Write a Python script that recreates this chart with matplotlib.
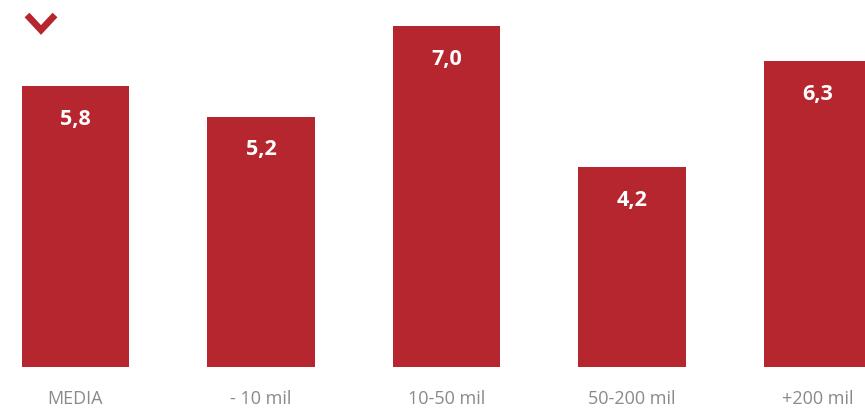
import matplotlib.pyplot as plt
from matplotlib.lines import Line2D

categories = ["MEDIA", "- 10 mil", "10-50 mil", "50-200 mil", "+200 mil"]
values = [5.8, 5.2, 7.0, 4.2, 6.3]
labels = ["5,8", "5,2", "7,0", "4,2", "6,3"]

RED = "#b5262e"
GREY = "#8a8a8a"
BASE = 0.228  # value axis does not start at zero in the original

fig = plt.figure(figsize=(8.65, 4.10), dpi=100)
ax = fig.add_axes([0, 0, 1, 1])

xs = list(range(len(categories)))
ax.bar(xs, [v - BASE for v in values], bottom=BASE, width=0.577, color=RED)

for x, v, lab in zip(xs, values, labels):
    ax.text(x, v - 0.64, lab, ha="center", va="center", color="white",
            fontsize=15.5, fontweight="bold", family=["Open Sans", "DejaVu Sans"])

for x, cat in zip(xs, categories):
    ax.text(x, BASE - 0.62, cat, ha="center", va="center", color=GREY,
            fontsize=13, family=["Open Sans", "DejaVu Sans"])

ax.set_xlim(-0.407, 4.256)
ax.set_ylim(-0.606, 7.535)
ax.axis("off")

# chevron marker top-left (pixel coords -> figure fraction)
W, H = 865, 410
px = [27, 41, 55]
py = [16, 31, 16]
fig.add_artist(Line2D([p / W for p in px], [1 - p / H for p in py],
                      color=RED, linewidth=4.8, solid_joinstyle="miter",
                      solid_capstyle="butt"))

fig.savefig("out.png", dpi=100)
